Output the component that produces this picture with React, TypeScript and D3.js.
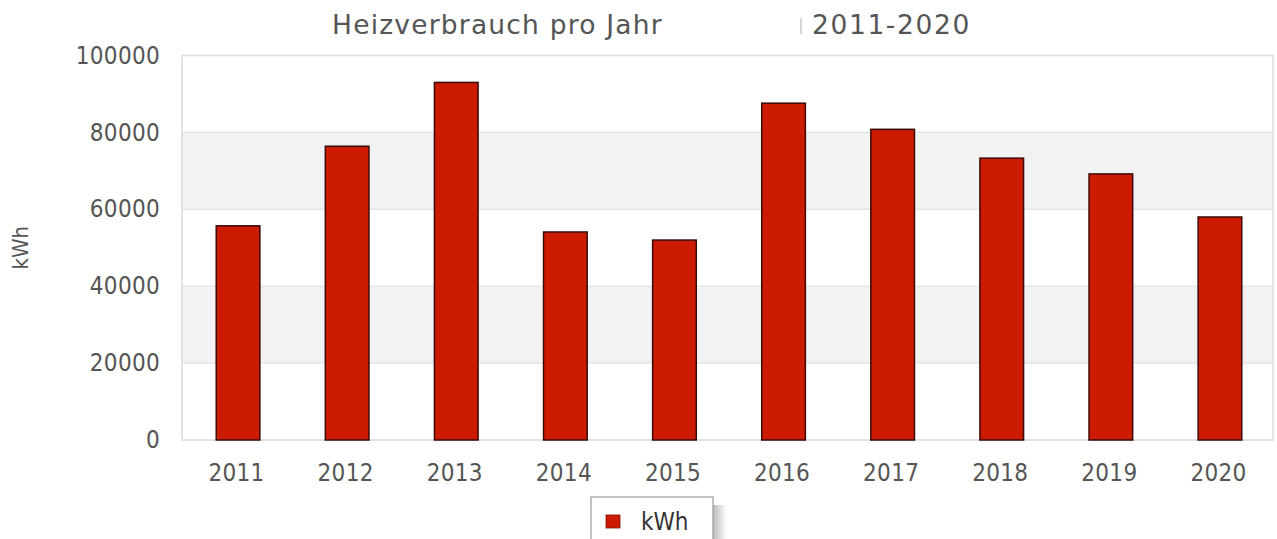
import { useRef, useEffect } from 'react';
import * as d3 from 'd3';

// Jahre und Verbrauch (kWh)
const years = ['2011', '2012', '2013', '2014', '2015', '2016', '2017', '2018', '2019', '2020'];
const kwh = [55700, 76400, 93000, 54100, 52000, 87600, 80800, 73300, 69200, 58000];
const yTicks = [0, 20000, 40000, 60000, 80000, 100000];

const W = 1277;
const H = 539;

export default function App() {
  const svgRef = useRef<SVGSVGElement>(null);

  const draw = () => {
    const svg = d3.select(svgRef.current);
    svg.selectAll('*').remove();

    const left = 182, right = 1273, top = 55.5, bottom = 440;
    const font = '"DejaVu Sans Condensed", "DejaVu Sans", sans-serif';

    const x = d3.scaleBand<string>().domain(years).range([left, right]).padding(0);
    const y = d3.scaleLinear().domain([0, 100000]).range([bottom, top]);

    // Hintergrundbänder (abwechselnd grau)
    for (let i = 0; i < yTicks.length - 1; i++) {
      svg.append('rect')
        .attr('x', left)
        .attr('y', y(yTicks[i + 1]))
        .attr('width', right - left)
        .attr('height', y(yTicks[i]) - y(yTicks[i + 1]))
        .attr('fill', i % 2 === 1 ? '#f2f2f2' : '#ffffff');
    }

    // Gitterlinien
    svg.append('g')
      .selectAll('line')
      .data(yTicks)
      .enter()
      .append('line')
      .attr('x1', left)
      .attr('x2', right)
      .attr('y1', d => y(d))
      .attr('y2', d => y(d))
      .attr('stroke', '#e2e2e2')
      .attr('stroke-width', 1.2);

    // Rahmen
    svg.append('rect')
      .attr('x', left)
      .attr('y', top)
      .attr('width', right - left)
      .attr('height', bottom - top)
      .attr('fill', 'none')
      .attr('stroke', '#dcdcdc')
      .attr('stroke-width', 1.5);

    // Y-Achse
    const yAxis = d3.axisLeft(y).tickValues(yTicks).tickSize(0).tickPadding(22).tickFormat(d => String(d));
    const gy = svg.append('g').attr('transform', `translate(${left}, 0)`).call(yAxis);
    gy.select('.domain').remove();
    gy.selectAll('text')
      .style('font-family', font)
      .style('font-size', '24px')
      .style('letter-spacing', '0.3px')
      .style('fill', '#555');

    // X-Achse
    const xAxis = d3.axisBottom(x).tickSize(0).tickPadding(24);
    const gx = svg.append('g').attr('transform', `translate(0, ${bottom})`).call(xAxis);
    gx.select('.domain').remove();
    gx.selectAll('text')
      .style('font-family', font)
      .style('font-size', '24px')
      .style('letter-spacing', '0.3px')
      .style('fill', '#555');

    // Balken
    const bw = x.bandwidth() * 0.4;
    svg.append('g')
      .selectAll('rect')
      .data(years)
      .enter()
      .append('rect')
      .attr('x', d => (x(d) as number) + x.bandwidth() / 2 - bw / 2 + 1.5)
      .attr('y', (_, i) => y(kwh[i]))
      .attr('width', bw)
      .attr('height', (_, i) => y(0) - y(kwh[i]))
      .attr('fill', '#cc1b00')
      .attr('stroke', '#3a0a05')
      .attr('stroke-width', 1.5);

    // Achsentitel
    svg.append('text')
      .attr('transform', `translate(28, ${(top + bottom) / 2}) rotate(-90)`)
      .attr('text-anchor', 'middle')
      .style('font-family', font)
      .style('font-size', '22px')
      .style('fill', '#555')
      .text('kWh');

    // Titel
    svg.append('text')
      .attr('x', 332)
      .attr('y', 34)
      .style('font-family', '"DejaVu Sans", sans-serif')
      .style('font-size', '26.5px')
      .style('letter-spacing', '1.2px')
      .style('fill', '#555')
      .text('Heizverbrauch pro Jahr');

    svg.append('line')
      .attr('x1', 801).attr('x2', 801)
      .attr('y1', 18).attr('y2', 34)
      .attr('stroke', '#c8c8c8')
      .attr('stroke-width', 1.5);

    svg.append('text')
      .attr('x', 812)
      .attr('y', 34)
      .style('font-family', '"DejaVu Sans", sans-serif')
      .style('font-size', '26.5px')
      .style('letter-spacing', '1.6px')
      .style('fill', '#555')
      .text('2011-2020');

    // Legende
    const lg = svg.append('g');
    const grad = svg.append('defs').append('linearGradient').attr('id', 'shadow');
    grad.append('stop').attr('offset', '0%').attr('stop-color', '#bbb');
    grad.append('stop').attr('offset', '100%').attr('stop-color', '#fff');
    lg.append('rect')
      .attr('x', 713).attr('y', 505)
      .attr('width', 14).attr('height', 40)
      .attr('fill', 'url(#shadow)');
    lg.append('rect')
      .attr('x', 591).attr('y', 497)
      .attr('width', 122).attr('height', 46)
      .attr('fill', '#fff')
      .attr('stroke', '#999')
      .attr('stroke-width', 1.2);
    lg.append('rect')
      .attr('x', 606).attr('y', 515)
      .attr('width', 14).attr('height', 13)
      .attr('fill', '#cc1b00')
      .attr('stroke', '#7a1000')
      .attr('stroke-width', 0.8);
    lg.append('text')
      .attr('x', 641)
      .attr('y', 530)
      .style('font-family', font)
      .style('font-size', '24px')
      .style('fill', '#333')
      .text('kWh');
  };

  useEffect(() => {
    draw();
  }, []);

  return (
    <svg
      ref={svgRef}
      width={W}
      height={H}
      style={{ position: 'absolute', left: 0, top: 0, background: '#fff' }}
    ></svg>
  );
}
